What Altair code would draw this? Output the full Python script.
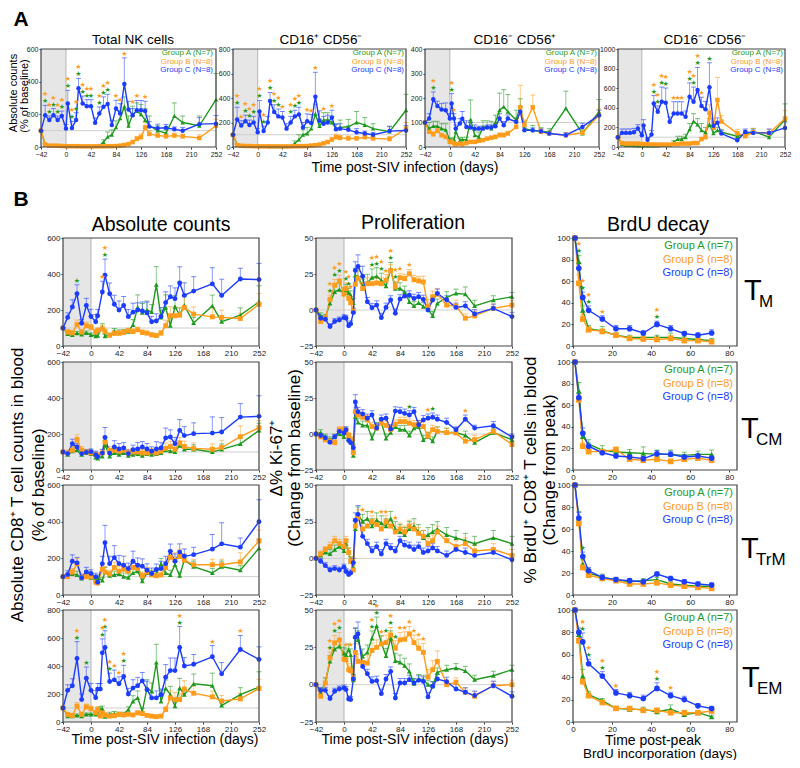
import altair as alt
import pandas as pd

FONT = "Liberation Sans"
W, H = 784, 752
GREEN, ORANGE, BLUE = "#1f9a1f", "#ff9c1c", "#1c3cff"
CSCALE = alt.Scale(domain=["A", "B", "C"], range=[GREEN, ORANGE, BLUE])
SSCALE = alt.Scale(domain=["A", "B", "C"], range=["triangle-up", "square", "circle"])

# ---------------- time axes ----------------
T = [-42, -35, -28, -21, -14, -7, 0, 3, 7, 10, 14, 17, 21, 28, 35, 42, 49, 56, 63, 70, 77, 84, 91, 98,
     105, 112, 119, 126, 133, 140, 154, 168, 182, 196, 224, 252]
BT = [1, 3, 5, 8, 15, 22, 29, 36, 43, 50, 57, 64, 71]
SIV_TICKS = [-42, 0, 42, 84, 126, 168, 210, 252]

# ---------------- Panel A: NK cells ----------------
nk_total_A = [100,15,10,10,8,8, 6,6,None,6,None,6,5, 5,5,5,6,8,30,62,75,120,175,247,130,200,220,200,165,130, 100,85,190,150,130,290]
nk_total_A_err = [0,5,3,3,2,2, 2,2,None,2,None,2,2, 2,2,2,3,5,15,30,30,40,50,60,60,50,50,60,70,60, 30,20,80,40,60,160]
nk_total_B = [100,15,8,8,8,6, 5,5,None,5,None,5,5, 4,4,4,4,4,4,5,5,6,8,12,18,30,50,60,120,80, 70,65,70,65,55,130]
nk_total_B_err = [0,5,3,3,2,2, 2,2,None,2,None,2,2, 2,2,2,2,2,2,2,2,3,4,5,6,10,15,20,30,20, 15,15,15,15,20,40]
nk_total_C = [100,195,165,195,165,190, 113,267,None,117,None,165,360, 267,250,250,148,205,247,263,134,236,205,386,230,195,225,225,220,125, 115,118,108,100,140,143]
nk_total_C_err = [0,60,25,40,25,30, 25,80,None,40,None,45,60, 45,40,40,30,40,60,60,30,50,60,160,50,40,60,60,60,30, 25,20,15,20,40,50]

nk_16p56n_A = [100,20,12,10,10,8, 8,8,None,7,None,7,6, 6,6,6,6,8,30,60,100,110,150,270,170,220,220,200,150,160, 165,200,180,150,125,300]
nk_16p56n_A_err = [0,8,4,3,3,2, 2,2,None,2,None,2,2, 2,2,2,2,4,20,40,40,50,60,80,60,60,60,50,40,60, 60,90,60,40,40,130]
nk_16p56n_B = [100,15,10,8,8,6, 6,5,None,5,None,5,5, 5,5,5,5,5,6,6,7,8,12,15,20,30,40,60,80,75, 70,70,80,70,65,150]
nk_16p56n_B_err = [0,6,3,3,2,2, 2,2,None,2,None,2,2, 2,2,2,2,2,2,2,3,3,4,5,6,10,15,20,25,20, 20,15,20,15,20,50]
nk_16p56n_C = [100,225,175,210,180,200, 120,290,None,130,None,200,375, 285,250,240,150,200,250,265,160,210,195,410,215,190,200,240,145,150, 140,120,110,100,130,135]
nk_16p56n_C_err = [0,100,40,50,40,50, 30,90,None,40,None,50,70, 60,60,50,40,50,50,60,40,60,70,200,80,60,60,60,40,40, 30,30,20,20,40,40]

nk_16n56p_A = [100,75,85,85,75,70, 27,25,30,62,None,27,30, 30,112,48,41,82,82,75,100,150,164,144,None,110,167,75,None,68, 64,60,None,158,55,144]
nk_16n56p_A_err = [0,25,20,20,20,25, 10,10,10,15,None,10,10, 10,80,20,20,25,25,30,30,70,70,70,None,40,30,30,None,20, 15,15,None,70,15,50]
nk_16n56p_B = [100,62,52,66,48,41, 21,21,15,11,None,14,11, 16,21,21,25,28,34,38,41,48,48,55,None,82,162,90,None,162, 62,55,None,48,58,130]
nk_16n56p_B_err = [0,15,10,10,8,8, 5,5,4,3,None,3,3, 4,4,4,5,5,6,6,8,10,10,10,None,15,90,20,None,50, 10,10,None,10,10,25]
nk_16n56p_C = [100,116,195,167,153,150, 116,178,116,75,None,96,115, 82,80,75,75,75,80,80,85,116,89,116,None,103,144,68,None,68, 64,55,None,48,82,130]
nk_16n56p_C_err = [0,20,30,20,25,30, 20,40,20,15,None,20,30, 25,20,15,10,10,10,10,10,20,15,15,None,15,20,10,None,10, 10,10,None,10,15,20]

nk_16n56n_A = [100,30,20,20,18,15, 15,15,None,15,None,15,15, 15,20,20,20,50,80,80,100,180,260,230,170,150,230,140,170,150, None,110,130,160,100,280]
nk_16n56n_A_err = [0,10,5,5,5,5, 5,5,None,5,None,5,5, 5,5,5,5,15,30,30,30,60,80,60,70,50,60,40,30,30, None,30,40,30,30,160]
nk_16n56n_B = [100,40,35,35,35,35, 30,30,None,30,None,25,25, 25,25,25,25,30,30,35,35,35,40,40,80,100,350,200,480,260, None,140,110,150,140,290]
nk_16n56n_B_err = [0,10,8,8,8,8, 8,8,None,8,None,6,6, 6,6,6,6,8,8,8,8,8,10,10,20,30,80,40,230,60, None,40,40,40,40,80]
nk_16n56n_C = [100,144,144,144,150,188, 120,219,None,75,None,127,445, 360,462,452,257,342,342,342,308,514,462,582,418,384,610,216,247,137, None,68,154,144,144,195]
nk_16n56n_C_err = [0,40,40,40,40,40, 30,60,None,20,None,40,80, 60,150,150,50,120,120,120,60,140,150,230,90,80,250,40,50,30, None,20,30,30,40,60]

# ---------------- Panel B col 1: absolute counts ----------------
abs_tm_A = [100,68,62,71,64,73, 62,None,55,58,None,104,55, 60,82,75,77,80,117,214,186,200,190,341,159,214,113,219,172,226, 128,None,223,135,172,245]
abs_tm_A_err = [0,10,10,10,10,10, 10,None,10,10,None,20,10, 10,15,15,15,15,30,70,50,50,40,100,40,70,40,60,40,50, 30,None,60,30,40,90]
abs_tm_B = [100,77,73,119,77,113, 104,None,77,86,None,95,80, 60,70,70,75,85,80,90,75,71,62,58,71,113,168,168,172,214, 177,None,162,159,153,232]
abs_tm_B_err = [0,15,12,25,12,20, 15,None,15,15,None,20,15, 12,15,15,15,15,15,15,15,12,12,12,15,30,50,50,40,70, 40,None,50,40,30,60]
abs_tm_C = [100,159,217,290,126,225, 164,None,135,168,None,300,393, 290,232,200,225,163,188,200,195,184,135,139,164,241,274,263,350,281, 305,None,345,281,372,369]
abs_tm_C_err = [0,25,40,50,20,40, 40,None,40,35,None,60,90, 60,50,50,50,40,50,40,50,60,30,40,50,60,60,60,90,70, 80,None,90,90,60,90]

abs_tcm_A = [100,85,105,110,85,95, 90,None,70,65,None,75,140, 75,95,85,95,80,85,90,80,90,85,90,95,110,105,100,135,115, 115,None,100,115,145,220]
abs_tcm_A_err = [0,10,15,15,15,15, 15,None,15,15,None,15,25, 15,20,15,20,15,15,20,15,20,20,20,20,20,20,20,25,25, 25,None,25,30,40,40]
abs_tcm_B = [100,95,110,170,110,100, 95,None,85,80,None,95,155, 110,110,105,110,95,100,100,95,95,100,95,105,120,130,115,150,130, 120,None,115,125,185,235]
abs_tcm_B_err = [0,15,20,25,20,15, 15,None,15,15,None,20,30, 20,20,20,20,20,20,20,20,20,20,20,20,30,30,25,30,30, 30,None,30,40,60,40]
abs_tcm_C = [100,91,146,128,91,98, 102,None,85,74,None,94,181, 94,128,117,122,91,113,117,128,117,104,117,122,178,183,146,220,191, 202,None,205,211,294,298]
abs_tcm_C_err = [0,10,25,20,15,15, 15,None,20,15,None,20,55, 25,35,30,30,20,25,35,30,30,25,40,30,55,40,35,60,50, 60,None,90,80,75,115]

abs_trm_A = [100,100,115,110,90,100, 95,None,85,95,None,80,125, 105,110,115,100,95,120,130,75,120,110,115,170,120,110,165,105,190, 155,None,120,155,135,255]
abs_trm_A_err = [0,15,20,20,15,15, 15,None,15,15,None,15,25, 20,20,20,20,20,20,25,20,25,25,25,30,25,25,30,20,30, 30,None,25,30,25,50]
abs_trm_B = [100,100,125,170,95,100, 100,None,70,65,None,140,125, 115,150,130,140,130,150,145,105,125,110,105,110,150,205,190,210,190, 165,None,165,165,180,295]
abs_trm_B_err = [0,15,20,30,20,20, 15,None,15,15,None,25,30, 20,30,25,25,25,30,25,20,25,20,20,25,30,40,40,40,35, 30,None,30,30,50,60]
abs_trm_C = [100,112,184,175,94,126, 117,None,99,70,None,171,285, 171,204,171,162,144,184,162,157,135,117,139,144,171,238,184,234,211, 220,None,250,279,261,400]
abs_trm_C_err = [0,20,35,30,15,25, 20,None,20,15,None,40,95, 40,65,45,50,30,55,40,40,35,30,30,40,40,40,40,45,40, 40,None,80,115,50,120]

abs_tem_A = [100,42,42,47,42,54, 54,None,54,60,89,94,38, 55,60,55,55,89,148,172,78,242,219,425,148,240,195,113,242,195, 273,None,259,118,195,249]
abs_tem_A_err = [0,10,10,10,10,10, 10,None,10,15,20,20,10, 15,15,15,15,20,40,50,20,60,60,130,50,60,60,30,70,40, 70,None,90,40,50,110]
abs_tem_B = [100,54,47,113,54,108, 94,None,66,89,42,66,50, 42,45,55,50,55,50,65,60,47,42,38,42,89,172,160,160,235, 205,None,180,150,165,240]
abs_tem_B_err = [0,15,15,25,15,20, 20,None,15,20,15,15,15, 10,12,12,12,12,12,15,15,10,10,10,10,20,50,50,40,60, 50,None,40,40,40,65]
abs_tem_C = [100,226,259,454,160,313, 226,None,174,235,235,494,532, 289,301,273,325,200,242,259,294,231,172,172,195,320,367,367,532,400, 412,None,466,344,518,447]
abs_tem_C_err = [0,40,50,120,40,80, 50,None,50,40,40,100,120, 60,70,50,80,40,60,60,60,60,40,50,40,90,90,90,150,60, 70,None,80,80,100,90]

# ---------------- Panel B col 2: proliferation (delta % Ki-67+) ----------------
ki_tm_A = [0,-4,-5,4.6,12.6,14.2, 11.5,13.8,12,10.3,5,24,23, 16.5,18.8,22.5,23.4,20.6,16.5,28,14.9,14.9,12.6,5.7,2.8,5,2.3,0.5,-4,4.6, 8.7,11.5,11,2.8,6.9,9.2]
ki_tm_A_err = [0,2,2,3,4,4, 4,4,3,3,3,5,6, 5,6,6,6,5,4,5,4,4,4,3,3,3,3,3,3,3, 4,3,5,4,3,3]
ki_tm_B = [0,-8,-5.7,7.3,17.2,20.2, 11,14.9,8,5,-1,17.9,22, 14.9,18.3,18.3,18.8,18.3,20.6,27.5,16,22.5,21.8,25.2,21,20.2,19.5,2.3,9.2,11, 3.4,2.8,-5.7,-4.1,1.1,3.4]
ki_tm_B_err = [0,2,2,3,4,4, 4,4,3,3,3,5,5, 4,4,4,4,4,4,4,4,3,3,3,3,3,4,5,4,4, 4,4,3,3,3,3]
ki_tm_C = [0,-5.7,-6.4,-11.5,-8,-6.9, -5.3,-5.7,-11,-9.6,-1.8,27.5,30.3, 23.4,5.7,1.6,3.4,-5.3,1.8,6.9,-2.3,7.6,9.6,10.3,8,9.2,7.3,0,6.9,11.5, 6.9,1.8,2.8,-2.8,1.1,-4.6]
ki_tm_C_err = [0,2,2,2,2,2, 2,2,2,2,3,6,8, 7,3,3,3,3,3,3,3,3,3,3,3,3,3,3,3,3, 3,3,3,3,3,3]

ki_tcm_A = [0,1,-2,-4,-2,0, -2,2,-3,-5,-15,12,8, 6,6,-3,5,8,-3,1,5,3,3,-1,4,5,-4,-2,-5,2, 1,1,-1,-6,1,-4]
ki_tcm_A_err = [0,2,2,2,2,2, 2,2,2,2,2,3,3, 3,3,3,3,3,3,3,3,3,3,3,3,3,3,3,3,3, 3,3,3,3,3,3]
ki_tcm_B = [0,-2,-4,-5,-6,3, 3,1.8,-1,-3.9,-13,15.5,13.2, 11.6,9.8,5.2,4,7.5,6,3,6.8,8.6,8.6,7.5,6.4,6.4,5.2,-1.6,3,1.8, 1,0.7,-5,-3.9,1.8,-7.3]
ki_tcm_B_err = [0,1.5,1.5,1.5,1.5,2, 2,2,2,2,2,3,3, 3,3,3,3,3,3,3,3,3,3,3,3,3,3,3,3,3, 3,3,3,3,3,3]
ki_tcm_C = [0,-1,-2.7,-5.7,-2,1.8, 0.7,3,-4.5,-6,-9.5,22.3,15.5, 13.9,10.9,13.2,4.1,10.2,10.9,3.4,15.9,15.5,14.3,13.2,15.5,6.4,9.8,10.9,11.6,10.2, 8,3,10.2,4.1,5.7,-2]
ki_tcm_C_err = [0,1.5,1.5,1.5,1.5,1.5, 2,2,2,2,2,5,3, 3,3,3,3,3,3,3,3,3,3,3,3,3,3,3,3,3, 3,2,3,2,3,2]

ki_trm_A = [0,2,4,3,6,8, 5,10,4,-2,-6,20,30, 25,27,22,26,24,22,27,20,18,16,20,22,18,14,16,18,20, 16,14,12,10,14,10]
ki_trm_A_err = [0,2,2,3,3,3, 3,3,3,3,3,5,5, 5,5,5,5,5,5,5,5,5,5,5,5,5,5,5,5,5, 5,5,5,5,5,5]
ki_trm_B = [0,3,6,8,12,10, 8,12,4,-2,-8,22,28, 20,22,25,23,20,25,22,18,20,18,22,20,17,15,10,12,18, 12,8,10,5,6,2]
ki_trm_B_err = [0,2,2,3,3,3, 3,3,3,3,3,5,5, 4,4,4,4,4,4,4,4,4,4,4,4,4,4,4,4,4, 4,4,4,4,4,4]
ki_trm_C = [0,-2,-5,-8,-7,-8, -6,-9,-11,-10,-3,26,30, 15,10,5,8,3,10,7,5,12,9,8,6,8,4,5,7,5, 2,6,4,2,4,-1]
ki_trm_C_err = [0,2,2,2,2,2, 2,2,2,2,3,5,6, 4,3,3,3,3,3,3,3,3,3,3,3,3,3,3,3,3, 3,3,3,3,3,3]

ki_tem_A = [0,-5.6,1.6,15.6,23.8,25.6, 21,20,23.3,20,3,32,30, 18.9,21.6,31,39.3,27.8,19.3,31,16,14.9,12.7,8.9,0.7,3.8,3.3,0,-1,8.2, 10,11.1,9.3,3.3,6,10]
ki_tem_A_err = [0,2,3,4,5,5, 4,4,4,4,3,6,6, 5,5,5,6,5,5,5,5,5,5,5,3,3,3,3,3,3, 3,3,3,3,3,3]
ki_tem_B = [0,-7.8,1.1,17.8,28,30, 17,16.7,10,9.3,4,21.6,15.6, 14.9,14.4,22.9,25,27.3,28.2,33.3,24.4,30,30.4,34,28.2,24.4,21.6,5.1,10,15.6, 0,1.6,-5.1,-7.8,-0.7,0]
ki_tem_B_err = [0,2,3,4,5,5, 4,4,4,3,3,6,5, 5,5,5,5,5,5,5,5,5,5,5,5,6,6,5,6,7, 3,3,3,3,3,3]
ki_tem_C = [0,-3.8,-3.8,-9.3,-4.4,-2.9, -2.2,-3.3,-9.6,-10,3.8,31.8,34, 12.2,7.3,2.2,2.7,-6,3.8,8.9,-8.9,1.1,1.1,3.3,1.1,2.9,2.2,-8.2,-1.1,3.8, 2,-2.9,-5.1,-7.3,-0.7,-7.8]
ki_tem_C_err = [0,2,2,2,2,2, 2,2,2,2,3,6,8, 4,3,3,3,3,3,3,3,3,3,3,3,3,3,3,3,3, 3,3,3,3,3,3]

# ---------------- Panel B col 3: BrdU decay ----------------
brdu_tm_A = [100,78,33,16,14,10,8,8,8,8,7,6,5]
brdu_tm_A_err = [0,6,4,3,4,2,2,2,2,4,2,2,2]
brdu_tm_B = [100,58,25,15,13.5,10,7,6.5,6,7,5,5,4]
brdu_tm_B_err = [0,8,4,3,2,2,1.5,1.5,1.5,3,1,1,1]
brdu_tm_C = [100,72,45,33,25,16,16,12,20,16,11.5,10,12]
brdu_tm_C_err = [0,5,5,4,3,3,3,2,3,3,2,2,3]

brdu_tcm_A = [100,73,31,24,18.5,16.6,16,15.4,14.5,14.5,13.5,14.5,14.5]
brdu_tcm_A_err = [0,8,4,4,4,3,3,6,4,4,3,3,4]
brdu_tcm_B = [100,65,22,17,17,19,10,9,10,8,10,11,9]
brdu_tcm_B_err = [0,5,3,2,2,2,2,1,1,1,1,1,1]
brdu_tcm_C = [100,67,34,22,16,13,12,10.5,15,14.5,12,13,11]
brdu_tcm_C_err = [0,4,5,3,2,2,2,2,3,3,2,2,2]

brdu_trm_A = [100,70,28,20,16,14,12,13,14,10,9,8,8]
brdu_trm_A_err = [0,6,4,3,3,2,2,2,2,2,2,2,2]
brdu_trm_B = [100,65,25,18,15,13,10,10,11,9,8,7,6]
brdu_trm_B_err = [0,5,3,2,2,2,1,1,1,1,1,1,1]
brdu_trm_C = [100,70,35,22,16,14,13,12,19,15,12,10,9]
brdu_trm_C_err = [0,5,4,3,2,2,2,2,2,2,2,2,2]

brdu_tem_A = [100,78,41,24.5,19,12.2,11.3,11.3,9.2,11.3,6.7,8.3,4.6]
brdu_tem_A_err = [0,4,6,3,2,1.5,1.5,2,2,4,1.5,1.5,1.5]
brdu_tem_B = [100,72.5,36,23.5,17.4,12.2,12,10.4,10.4,8.3,8.3,8.3,9.8]
brdu_tem_B_err = [0,4,3,3,2,1.5,1.5,1.5,1.5,1.5,1.5,1.5,1.5]
brdu_tem_C = [100,80,71.5,52,41,26,23.5,21,30,23.5,20,14.4,12]
brdu_tem_C_err = [0,4,8,4,4,3,3,3,5,3,3,2,2]

# ---------------- significance stars (days) ----------------
stars_nk_total = {"both": [-35,-28,-21,-14,-7,3,10,17,21,28,35,42,56,63,70], "B": [84,91,98,112,119,133]}
stars_nk_16p56n = {"both": [-35,-21,-14,-7,3,10,21,28,35,56,63,70], "B": [-28,42,84,91,98,112,126]}
stars_nk_16n56p = {"both": [-28,3], "B": [7]}
stars_nk_16n56n = {"both": [21,28,35,42,84,91,98], "B": [56,63,70,105], "A": [119]}
stars_abs_tm = {"both": [21], "B": [17], "A": [-21]}
stars_abs_tem = {"both": [-21,17,21,28,49,133], "B": [35,42,182,224], "A": [-7]}
stars_ki_tm = {"both": [-21,-14,-7,3,7,42,49,56,70,77], "B": [10,63,84,98]}
stars_ki_tcm = {"A": [98,133], "B": [126,182]}
stars_ki_trm = {"B": [28,42,56,63,77]}
stars_ki_tem = {"both": [-21,-14,-7,42,49,70], "B": [3,10,56,84,91,98,105,112,119], "A": [63,77]}
stars_brdu_tm = {"both": [3,5,8,43], "B": [15]}
stars_brdu_trm = {"A": [5]}
stars_brdu_tem = {"both": [5,8,15,43], "B": [22,50]}


def rows_for(times, vals, errs, g):
    out = []
    for t, v, e in zip(times, vals, errs):
        if v is None:
            continue
        out.append({"t": t, "v": v, "top": v + (e or 0), "g": g})
    return out


def panel(rect, xdom, ydom, xticks, yticks, times, series, stars=None, shade=True,
          href=None, lsize=8, psize=24):
    x0, y0, x1, y1 = rect
    xs = alt.Scale(domain=xdom, range=[x0 - 8, x1 - 8], nice=False, zero=False)
    ys = alt.Scale(domain=ydom, range=[y1 - 8, y0 - 8], nice=False, zero=False)
    common = dict(title=None, grid=False, domain=False, tickSize=2, tickColor="#333",
                  labelFont=FONT, labelFontSize=lsize, labelColor="#222", labelOverlap=False,
                  labelPadding=1, labelFlush=False, format="d")
    xa = alt.Axis(orient="bottom", offset=(y1 - 8) - H, values=xticks, **common)
    ya = alt.Axis(orient="left", offset=-(x0 - 8), values=yticks, **common)

    def X(f):
        return alt.X(f, type="quantitative", scale=xs, axis=xa)

    def Y(f):
        return alt.Y(f, type="quantitative", scale=ys, axis=ya)

    col = alt.Color("g:N", scale=CSCALE, legend=None)
    rows = []
    for g in ["A", "B", "C"]:
        vals, errs = series[g]
        rows += rows_for(times, vals, errs, g)
    df = pd.DataFrame(rows)
    box = pd.DataFrame([{"xa": xdom[0], "xz": 0, "xb": xdom[1], "ya": ydom[0], "yb": ydom[1],
                         "h": href if href is not None else ydom[0]}])
    layers = []
    if shade:
        layers.append(alt.Chart(box).mark_rect(color="#e6e6e6").encode(
            x=X("xa"), x2="xz", y=Y("ya"), y2="yb"))
        layers.append(alt.Chart(box).mark_rule(color="#b5b5b5", strokeWidth=1).encode(
            x=X("xz"), y=Y("ya"), y2="yb"))
    if href is not None:
        layers.append(alt.Chart(box).mark_rule(color="#cfcfcf", strokeWidth=1).encode(
            x=X("xa"), x2="xb", y=Y("h")))
    base = alt.Chart(df)
    layers.append(base.mark_rule(opacity=0.5, strokeWidth=1).encode(
        x=X("t"), y=Y("v"), y2="top", color=col))
    layers.append(base.mark_tick(orient="horizontal", size=5, thickness=1, opacity=0.6).encode(
        x=X("t"), y=Y("top"), color=col))
    layers.append(base.mark_line(strokeWidth=1.4).encode(x=X("t"), y=Y("v"), color=col))
    layers.append(base.mark_point(filled=True, opacity=1, size=psize).encode(
        x=X("t"), y=Y("v"), color=col, shape=alt.Shape("g:N", scale=SSCALE, legend=None)))
    if stars:
        tops = df.groupby("t")["top"].max()
        lo, hi = [], []
        for t in stars.get("both", []):
            lo.append({"t": t, "s": float(tops[t]), "g": "A"})
            hi.append({"t": t, "s": float(tops[t]), "g": "B"})
        for g in ["A", "B"]:
            for t in stars.get(g, []):
                lo.append({"t": t, "s": float(tops[t]), "g": g})
        if lo:
            layers.append(alt.Chart(pd.DataFrame(lo)).mark_text(
                text="★", fontSize=7, font="DejaVu Sans", baseline="bottom", dy=-1).encode(
                x=X("t"), y=Y("s"), color=col))
        if hi:
            layers.append(alt.Chart(pd.DataFrame(hi)).mark_text(
                text="★", fontSize=7, font="DejaVu Sans", baseline="bottom", dy=-8).encode(
                x=X("t"), y=Y("s"), color=col))
    layers.append(alt.Chart(box).mark_rect(fillOpacity=0, stroke="#444", strokeWidth=1.2).encode(
        x=X("xa"), x2="xb", y=Y("ya"), y2="yb"))
    return alt.layer(*layers)


def txt(s, x, y, size, color="black", angle=0, align="center", baseline="middle",
        weight="normal", font=FONT):
    return alt.Chart(alt.Data(values=[{"a": 1}])).mark_text(
        text=s, fontSize=size, color=color, angle=angle, align=align, baseline=baseline,
        fontWeight=weight, font=font).encode(x=alt.value(x - 8), y=alt.value(y - 8))


def ser(a, ae, b, be, c, ce):
    return {"A": (a, ae), "B": (b, be), "C": (c, ce)}


panels = []
# ----- Panel A -----
A_Y0, A_Y1 = 49, 147
a_specs = [
    ((41, A_Y0, 216, A_Y1), [0, 600], [0, 200, 400, 600],
     ser(nk_total_A, nk_total_A_err, nk_total_B, nk_total_B_err, nk_total_C, nk_total_C_err), stars_nk_total),
    ((233, A_Y0, 406, A_Y1), [0, 800], [0, 200, 400, 600, 800],
     ser(nk_16p56n_A, nk_16p56n_A_err, nk_16p56n_B, nk_16p56n_B_err, nk_16p56n_C, nk_16p56n_C_err), stars_nk_16p56n),
    ((425, A_Y0, 599, A_Y1), [0, 400], [0, 100, 200, 300, 400],
     ser(nk_16n56p_A, nk_16n56p_A_err, nk_16n56p_B, nk_16n56p_B_err, nk_16n56p_C, nk_16n56p_C_err), stars_nk_16n56p),
    ((618, A_Y0, 785, A_Y1), [0, 1000], [0, 200, 400, 600, 800, 1000],
     ser(nk_16n56n_A, nk_16n56n_A_err, nk_16n56n_B, nk_16n56n_B_err, nk_16n56n_C, nk_16n56n_C_err), stars_nk_16n56n),
]
for rect, ydom, yt, s, st in a_specs:
    panels.append(panel(rect, [-42, 252], ydom, SIV_TICKS, yt, T, s, st, True, 100, 7, 20))

# ----- Panel B -----
ROWS = [(238, 346), (362, 470), (485, 595), (610, 722)]
C1, C2, C3 = (63, 259), (316, 512), (573, 737)
abs_series = [
    (ser(abs_tm_A, abs_tm_A_err, abs_tm_B, abs_tm_B_err, abs_tm_C, abs_tm_C_err), [0, 600], [0, 200, 400, 600], stars_abs_tm),
    (ser(abs_tcm_A, abs_tcm_A_err, abs_tcm_B, abs_tcm_B_err, abs_tcm_C, abs_tcm_C_err), [0, 600], [0, 200, 400, 600], None),
    (ser(abs_trm_A, abs_trm_A_err, abs_trm_B, abs_trm_B_err, abs_trm_C, abs_trm_C_err), [0, 600], [0, 200, 400, 600], None),
    (ser(abs_tem_A, abs_tem_A_err, abs_tem_B, abs_tem_B_err, abs_tem_C, abs_tem_C_err), [0, 800], [0, 200, 400, 600, 800], stars_abs_tem),
]
ki_series = [
    (ser(ki_tm_A, ki_tm_A_err, ki_tm_B, ki_tm_B_err, ki_tm_C, ki_tm_C_err), stars_ki_tm),
    (ser(ki_tcm_A, ki_tcm_A_err, ki_tcm_B, ki_tcm_B_err, ki_tcm_C, ki_tcm_C_err), stars_ki_tcm),
    (ser(ki_trm_A, ki_trm_A_err, ki_trm_B, ki_trm_B_err, ki_trm_C, ki_trm_C_err), stars_ki_trm),
    (ser(ki_tem_A, ki_tem_A_err, ki_tem_B, ki_tem_B_err, ki_tem_C, ki_tem_C_err), stars_ki_tem),
]
brdu_series = [
    (ser(brdu_tm_A, brdu_tm_A_err, brdu_tm_B, brdu_tm_B_err, brdu_tm_C, brdu_tm_C_err), stars_brdu_tm),
    (ser(brdu_tcm_A, brdu_tcm_A_err, brdu_tcm_B, brdu_tcm_B_err, brdu_tcm_C, brdu_tcm_C_err), None),
    (ser(brdu_trm_A, brdu_trm_A_err, brdu_trm_B, brdu_trm_B_err, brdu_trm_C, brdu_trm_C_err), stars_brdu_trm),
    (ser(brdu_tem_A, brdu_tem_A_err, brdu_tem_B, brdu_tem_B_err, brdu_tem_C, brdu_tem_C_err), stars_brdu_tem),
]
for i, (ry0, ry1) in enumerate(ROWS):
    s, ydom, yt, st = abs_series[i]
    panels.append(panel((C1[0], ry0, C1[1], ry1), [-42, 252], ydom, SIV_TICKS, yt, T, s, st, True, 100, 8, 24))
    s, st = ki_series[i]
    panels.append(panel((C2[0], ry0, C2[1], ry1), [-42, 252], [-25, 50], SIV_TICKS, [-25, 0, 25, 50], T, s, st, True, 0, 8, 24))
    s, st = brdu_series[i]
    panels.append(panel((C3[0], ry0, C3[1], ry1), [0, 84], [0, 100], [0, 20, 40, 60, 80], [0, 20, 40, 60, 80, 100],
                        BT, s, st, False, None, 8, 32))

# ----- texts -----
labels = [
    txt("A", 21, 20, 21, weight="bold"),
    txt("B", 21, 200, 21, weight="bold"),
    txt("Total NK cells", 133, 40, 13.5),
    txt("CD16⁺ CD56⁻", 321, 40, 13.5),
    txt("CD16⁻ CD56⁺", 515, 40, 13.5),
    txt("CD16⁻ CD56⁻", 705, 40, 13.5),
    txt("Absolute counts", 13.5, 93, 11, angle=270),
    txt("(% of baseline)", 25, 96, 11, angle=270),
    txt("Time post-SIV infection (days)", 405, 168, 14),
    txt("Absolute counts", 161, 225, 19.5),
    txt("Proliferation", 413, 223, 19.5),
    txt("BrdU decay", 658, 225, 19.5),
    txt("Absolute CD8⁺ T cell counts in blood", 18, 485, 17, angle=270),
    txt("(% of baseline)", 39, 485, 17, angle=270),
    txt("Δ% Ki-67⁺", 277, 458, 17, angle=270),
    txt("(Change from baseline)", 295, 458, 17, angle=270),
    txt("% BrdU⁺ CD8⁺ T cells in blood", 531, 470, 17, angle=270),
    txt("(Change from peak)", 550, 470, 17, angle=270),
    txt("Time post-SIV infection (days)", 165, 740, 14),
    txt("Time post-SIV infection (days)", 415, 740, 14),
    txt("Time post-peak", 653, 741, 14),
    txt("BrdU incorporation (days)", 660, 754, 13.5),
]
for right in [213, 404, 597, 783]:
    for k, (name, c) in enumerate([("Group A (N=7)", GREEN), ("Group B (N=8)", ORANGE), ("Group C (N=8)", BLUE)]):
        labels.append(txt(name, right, 53 + 8.5 * k, 8, color=c, align="right"))
for (ry0, ry1) in ROWS:
    for k, (name, c) in enumerate([("Group A (n=7)", GREEN), ("Group B (n=8)", ORANGE), ("Group C (n=8)", BLUE)]):
        labels.append(txt(name, 733, ry0 + 8 + 13.5 * k, 11, color=c, align="right"))
for sub, tb, tx in [("M", 300, 744), ("CM", 438, 741), ("TrM", 558, 741), ("EM", 687, 742)]:
    labels.append(txt("T", tx, tb, 29, align="left", baseline="alphabetic"))
    labels.append(txt(sub, tx + 15, tb + 7, 17, align="left", baseline="alphabetic"))

chart = alt.layer(*panels, *labels).resolve_scale(
    x="independent", y="independent"
).properties(
    width=W, height=H, autosize=alt.AutoSizeParams(type="none"), padding=0
).configure_view(stroke=None)

chart.save("out.html", embed_options={"renderer": "svg", "actions": False})
